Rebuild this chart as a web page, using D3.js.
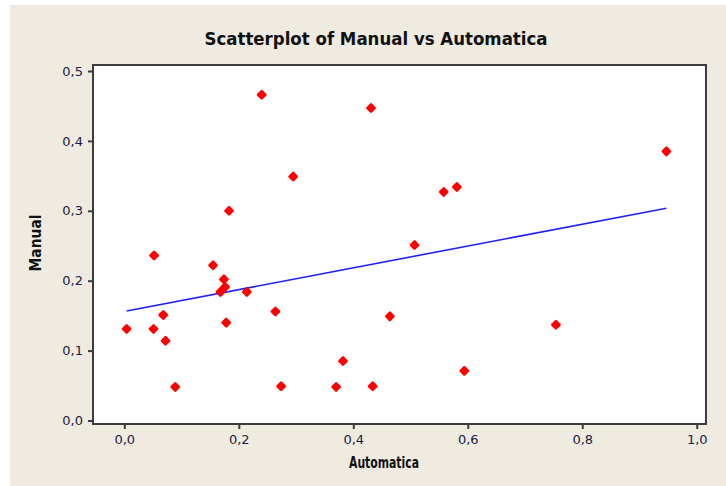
<!DOCTYPE html>
<html>
<head>
<meta charset="utf-8">
<script src="https://cdn.jsdelivr.net/npm/d3@7"></script>
<style>
  body { margin: 0; background: #fff; }
  text { font-family: "DejaVu Sans", sans-serif; }
</style>
</head>
<body>
<script>
// valores
var automatica = [0.004, 0.052, 0.051, 0.068, 0.072, 0.089, 0.155, 0.174, 0.168, 0.176,
                  0.178, 0.183, 0.214, 0.240, 0.264, 0.274, 0.295, 0.370, 0.382, 0.431,
                  0.434, 0.464, 0.507, 0.558, 0.581, 0.594, 0.754, 0.947];
var manual = [0.131, 0.236, 0.131, 0.151, 0.114, 0.048, 0.222, 0.202, 0.184, 0.191,
              0.140, 0.300, 0.184, 0.466, 0.156, 0.049, 0.349, 0.048, 0.085, 0.447,
              0.049, 0.149, 0.251, 0.327, 0.334, 0.071, 0.137, 0.385];
// recta ajustada (Manual = a + b*Automatica)
var fitIntercept = 0.1560;
var fitSlope = 0.156;
var xTicks = [0, 0.2, 0.4, 0.6, 0.8, 1.0];
var yTicks = [0, 0.1, 0.2, 0.3, 0.4, 0.5];

var W = 726, H = 486;
var svg = d3.select('body').append('svg').attr('width', W).attr('height', H);

svg.append('rect').attr('x', 10).attr('y', 5).attr('width', W - 10).attr('height', H - 5)
   .attr('fill', '#efebe1');

// limites del area del grafico
var pLeft = 93, pRight = 706, pTop = 65, pBottom = 424;

var x = d3.scaleLinear().domain([-0.0547, 1.0162]).range([pLeft, pRight]);
var y = d3.scaleLinear().domain([-0.005, 0.5086]).range([pBottom, pTop]);

svg.append('rect').attr('x', pLeft).attr('y', pTop)
   .attr('width', pRight - pLeft).attr('height', pBottom - pTop)
   .attr('fill', '#fff').attr('stroke', '#3c3c3c').attr('stroke-width', 2);

var fmt = function(d){ return d3.format('.1f')(d).replace('.', ','); };

var xAxis = svg.append('g').attr('transform', 'translate(0,' + pBottom + ')')
    .call(d3.axisBottom(x).tickValues(xTicks).tickFormat(fmt).tickSize(5).tickPadding(6));
var yAxis = svg.append('g').attr('transform', 'translate(' + pLeft + ',0)')
    .call(d3.axisLeft(y).tickValues(yTicks).tickFormat(fmt).tickSize(5).tickPadding(5));

[xAxis, yAxis].forEach(function(a){
  a.select('.domain').remove();
  a.selectAll('line').attr('stroke', '#3c3c3c').attr('stroke-width', 2);
  a.selectAll('text').attr('font-size', 13).attr('fill', '#1c1c40')
   .style('font-family', '"DejaVu Sans", sans-serif');
});

// recta de regresion
var x0 = d3.min(automatica), x1 = d3.max(automatica);
svg.append('line')
   .attr('x1', x(x0)).attr('y1', y(fitIntercept + fitSlope * x0))
   .attr('x2', x(x1)).attr('y2', y(fitIntercept + fitSlope * x1))
   .attr('stroke', '#2020ff').attr('stroke-width', 1.6);

// puntos
var pts = automatica.map(function(a, i){ return [a, manual[i]]; });
svg.selectAll('.pt').data(pts).enter().append('path')
   .attr('class', 'pt')
   .attr('d', d3.symbol().type(d3.symbolSquare).size(26))
   .attr('transform', function(d){ return 'translate(' + x(d[0]) + ',' + y(d[1]) + ') rotate(45)'; })
   .attr('fill', '#ff0000').attr('stroke', '#ff0000')
   .attr('stroke-width', 2.6).attr('stroke-linejoin', 'round');

svg.append('text').text('Scatterplot of Manual vs Automatica')
   .attr('x', 376).attr('y', 45).attr('text-anchor', 'middle')
   .attr('font-size', 17).attr('font-weight', 'bold').attr('fill', '#111')
   .attr('textLength', 343).attr('lengthAdjust', 'spacingAndGlyphs');

svg.append('text').text('Automatica')
   .attr('x', 384).attr('y', 468).attr('text-anchor', 'middle')
   .attr('font-size', 15).attr('font-weight', 'bold').attr('fill', '#111')
   .attr('textLength', 70).attr('lengthAdjust', 'spacingAndGlyphs');

svg.append('text').text('Manual')
   .attr('transform', 'translate(41,243) rotate(-90)').attr('text-anchor', 'middle')
   .attr('font-size', 15).attr('font-weight', 'bold').attr('fill', '#111')
   .attr('textLength', 57).attr('lengthAdjust', 'spacingAndGlyphs');
</script>
</body>
</html>
